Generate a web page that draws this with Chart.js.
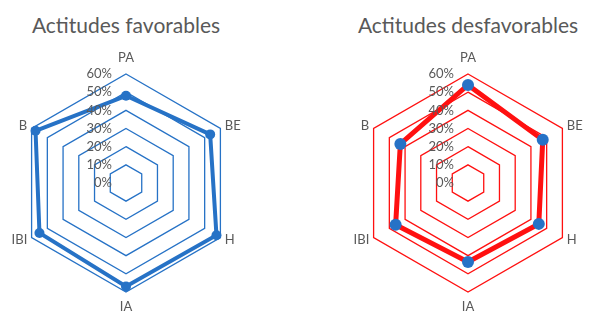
<!DOCTYPE html>
<html lang="es">
  <head>
    <meta charset="UTF-8" />
    <title>Actitudes</title>
    <script src="https://cdn.jsdelivr.net/npm/chart.js"></script>
    <style>
      body { margin: 0; width: 597px; height: 318px; overflow: hidden; background: #fff; position: relative; font-family: Lato, sans-serif; }
      .title { position: absolute; top: 12px; width: 300px; text-align: center; color: #595959; font-size: 21px; }
      .box { position: absolute; top: 50px; width: 266px; height: 266px; }
    </style>
  </head>
  <body>
    <div class="title" style="left: -24px">Actitudes favorables</div>
    <div class="title" style="left: 318px">Actitudes desfavorables</div>
    <div class="box" style="left: -7px"><canvas id="fav"></canvas></div>
    <div class="box" style="left: 335px"><canvas id="desfav"></canvas></div>

    <script>
      const categories = ["PA", "BE", "H", "IA", "IBI", "B"];
      const favorables = [48, 53.5, 57.5, 57, 55, 57.5];
      const desfavorables = [54, 47.5, 45, 43.5, 46, 43];
      const tickMin = 0;
      const tickMax = 60;
      const tickStep = 10;

      const blue = "#2672c6";
      const red = "#ff1010";
      const textColor = "#595959";
      const font13 = "13px Lato, sans-serif";

      // etiquetas del eje (a la izquierda del centro) y de las categorías, estilo Excel
      const excelLabels = {
        id: "excelLabels",
        afterDatasetsDraw(chart) {
          const s = chart.scales.r;
          const ctx = chart.ctx;
          ctx.save();
          ctx.font = font13;
          ctx.fillStyle = textColor;
          ctx.textAlign = "right";
          ctx.textBaseline = "middle";
          s.ticks.forEach((t) => {
            const y = s.yCenter - s.getDistanceFromCenterForValue(t.value);
            ctx.fillText(t.value + "%", s.xCenter - 14, y);
          });

          categories.forEach((c, i) => {
            const top = i === 0;
            const bottom = i === categories.length / 2;
            const pad = top ? 10 : bottom ? 8 : 5;
            const p = s.getPointPosition(i, s.drawingArea + pad);
            if (top) {
              ctx.textAlign = "center";
              ctx.textBaseline = "bottom";
            } else if (bottom) {
              ctx.textAlign = "center";
              ctx.textBaseline = "top";
            } else {
              ctx.textAlign = p.x > s.xCenter ? "left" : "right";
              ctx.textBaseline = "middle";
            }
            ctx.fillText(c, p.x, p.y);
          });
          ctx.restore();
        },
      };

      function radar(id, values, gridColor, lineColor, lineWidth, pointRadius) {
        new Chart(document.getElementById(id), {
          type: "radar",
          data: {
            labels: categories,
            datasets: [
              {
                data: values,
                borderColor: lineColor,
                borderWidth: lineWidth,
                backgroundColor: blue,
                fill: false,
                tension: 0,
                pointRadius: pointRadius,
                pointBackgroundColor: blue,
                pointBorderWidth: 0,
              },
            ],
          },
          options: {
            responsive: true,
            maintainAspectRatio: false,
            animation: false,
            layout: { padding: 24 },
            plugins: { legend: { display: false }, tooltip: { enabled: false } },
            scales: {
              r: {
                min: tickMin,
                max: tickMax,
                ticks: { stepSize: tickStep, display: false },
                grid: { color: gridColor, lineWidth: 1.3 },
                angleLines: { display: false },
                pointLabels: { display: false },
              },
            },
          },
          plugins: [excelLabels],
        });
      }

      radar("fav", favorables, blue, blue, 4, 5);
      radar("desfav", desfavorables, red, red, 5, 6);
    </script>
  </body>
</html>
